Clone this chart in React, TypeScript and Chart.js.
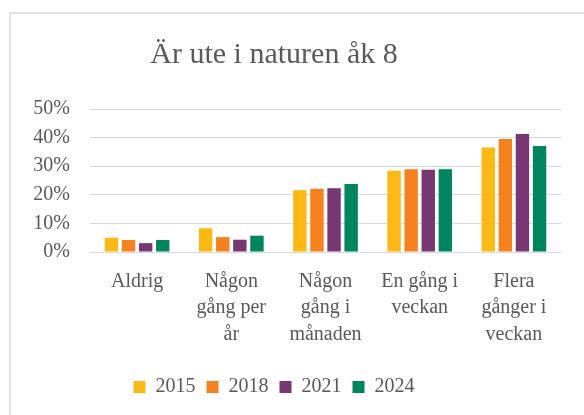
import React, { useEffect, useRef } from "react";
import { Chart, registerables } from "chart.js";

Chart.register(...registerables);

const categories: string[][] = [
  ["Aldrig"],
  ["Någon", "gång per", "år"],
  ["Någon", "gång i", "månaden"],
  ["En gång i", "veckan"],
  ["Flera", "gånger i", "veckan"],
];
const seriesNames = ["2015", "2018", "2021", "2024"];
const values2015 = [5.0, 8.3, 21.6, 28.4, 36.5];
const values2018 = [4.2, 5.2, 22.1, 28.9, 39.5];
const values2021 = [3.1, 4.3, 22.3, 28.8, 41.3];
const values2024 = [4.2, 5.7, 23.8, 28.9, 37.1];
const colors = ["#FCB814", "#F5821F", "#763772", "#00855F"];
const yTicks = [0, 10, 20, 30, 40, 50];

const FONT = "'Liberation Serif', 'Times New Roman', serif";
const TEXT = "#595959";

export default function App() {
  const ref = useRef<HTMLCanvasElement | null>(null);
  useEffect(() => {
    if (!ref.current) return;
    const all = [values2015, values2018, values2021, values2024];
    const chart = new Chart(ref.current, {
      type: "bar",
      data: {
        labels: categories,
        datasets: all.map((d, i) => ({
          label: seriesNames[i],
          data: d,
          backgroundColor: colors[i],
          borderWidth: 0,
          categoryPercentage: 0.726,
          barPercentage: 0.784,
        })),
      },
      options: {
        animation: false,
        responsive: false,
        maintainAspectRatio: false,
        layout: { padding: { top: 0, right: 0, bottom: 8, left: 0 } },
        plugins: {
          title: {
            display: true,
            text: "Är ute i naturen åk 8",
            color: TEXT,
            font: { family: FONT, size: 30, weight: "normal" },
            padding: { top: 37, bottom: 36 },
          },
          legend: {
            position: "bottom",
            labels: {
              color: TEXT,
              font: { family: FONT, size: 20 },
              boxWidth: 12,
              boxHeight: 12,
              padding: 11,
            },
          },
          tooltip: { enabled: false },
        },
        scales: {
          x: {
            grid: { display: false },
            border: { display: false },
            ticks: {
              color: TEXT,
              font: { family: FONT, size: 20, lineHeight: 1.33 },
              maxRotation: 0,
              autoSkip: false,
              padding: 8,
            },
            afterFit: (s: any) => {
              s.height = 114;
            },
          },
          y: {
            min: 0,
            max: 50,
            afterBuildTicks: (s: any) => {
              s.ticks = yTicks.map((v) => ({ value: v }));
            },
            grid: { color: "#D9D9D9", lineWidth: 1, drawTicks: false },
            border: { display: false },
            ticks: {
              color: TEXT,
              font: { family: FONT, size: 20 },
              padding: 20,
              callback: (v: any) => v + "%",
            },
            afterFit: (s: any) => {
              s.width = 103;
            },
          },
        },
      },
    });
    return () => chart.destroy();
  }, []);
  return (
    <div style={{ position: "fixed", left: 0, top: 0, width: 584, height: 415, overflow: "hidden", background: "#fff" }}>
      <div style={{ position: "absolute", left: 9, top: 12, width: 600, height: 420, border: "2px solid #E3E3E3", boxSizing: "border-box" }} />
      <canvas ref={ref} width={574} height={415} style={{ position: "absolute", left: -13, top: 0, width: 574, height: 415 }} />
    </div>
  );
}
